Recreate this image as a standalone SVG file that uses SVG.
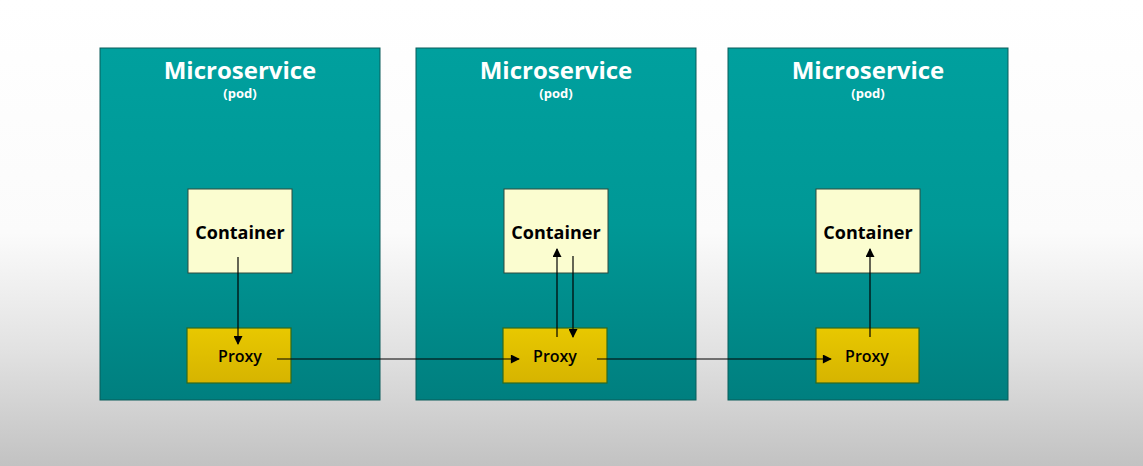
<svg xmlns="http://www.w3.org/2000/svg" width="1143" height="466" viewBox="0 0 1143 466">
<defs>
<linearGradient id="bg" x1="0" y1="0" x2="0" y2="1">
<stop offset="0" stop-color="#ffffff"/>
<stop offset="0.5" stop-color="#fbfbfb"/>
<stop offset="0.75" stop-color="#e2e2e2"/>
<stop offset="1" stop-color="#c2c2c2"/>
</linearGradient>
<linearGradient id="pod" x1="0" y1="0" x2="0" y2="1">
<stop offset="0" stop-color="#00a09e"/>
<stop offset="0.5" stop-color="#009896"/>
<stop offset="1" stop-color="#007f7f"/>
</linearGradient>
<linearGradient id="proxy" x1="0" y1="0" x2="0" y2="1">
<stop offset="0" stop-color="#e8c800"/>
<stop offset="1" stop-color="#d6b400"/>
</linearGradient>
<marker id="ah" viewBox="0 0 10 10" refX="9" refY="5" markerWidth="10" markerHeight="9" markerUnits="userSpaceOnUse" orient="auto">
<path d="M0,0 L10,5 L0,10 z" fill="#000"/>
</marker>
<style>
.pod{fill:url(#pod);stroke:#0b5c5a;stroke-width:1}
.cont{fill:#fbfdd0;stroke:#2e4a3e;stroke-width:1}
.proxy{fill:url(#proxy);stroke:#2d6a1e;stroke-width:1.2}
.t1{font-family:"Open Sans","Liberation Sans",sans-serif;font-weight:bold;font-size:24px;fill:#fff;text-anchor:middle}
.t2{font-family:"Open Sans","Liberation Sans",sans-serif;font-weight:bold;font-size:13px;fill:#fff;text-anchor:middle}
.tc{font-family:"Open Sans","Liberation Sans",sans-serif;font-weight:bold;font-size:18px;fill:#000;text-anchor:middle}
.tp{font-family:"Open Sans","Liberation Sans",sans-serif;font-weight:600;font-size:16px;fill:#000;text-anchor:middle}
.c{stroke:#000;stroke-width:1.2;fill:none;marker-end:url(#ah)}
</style>
</defs>
<rect width="1143" height="466" fill="url(#bg)"/>
<g id="pod1">
<rect class="pod" x="100" y="48" width="280" height="352"/>
<text class="t1" x="240" y="79">Microservice</text>
<text class="t2" x="240" y="98">(pod)</text>
</g>
<g id="pod2">
<rect class="pod" x="416" y="48" width="280" height="352"/>
<text class="t1" x="556" y="79">Microservice</text>
<text class="t2" x="556" y="98">(pod)</text>
</g>
<g id="pod3">
<rect class="pod" x="728" y="48" width="280" height="352"/>
<text class="t1" x="868" y="79">Microservice</text>
<text class="t2" x="868" y="98">(pod)</text>
</g>
<g id="container1">
<rect class="cont" x="188" y="189" width="104" height="84"/>
<text class="tc" x="240" y="239">Container</text>
</g>
<g id="container2">
<rect class="cont" x="504" y="189" width="104" height="84"/>
<text class="tc" x="556" y="239">Container</text>
</g>
<g id="container3">
<rect class="cont" x="816" y="189" width="104" height="84"/>
<text class="tc" x="868" y="239">Container</text>
</g>
<g id="proxy1">
<rect class="proxy" x="187" y="328" width="104" height="55"/>
<text class="tp" x="240" y="362">Proxy</text>
</g>
<g id="proxy2">
<rect class="proxy" x="503" y="328" width="104" height="55"/>
<text class="tp" x="555" y="362">Proxy</text>
</g>
<g id="proxy3">
<rect class="proxy" x="816" y="328" width="103" height="55"/>
<text class="tp" x="867" y="362">Proxy</text>
</g>
<g id="connectors">
<line class="c" x1="238" y1="257" x2="238" y2="344"/>
<line class="c" x1="277" y1="359" x2="519" y2="359"/>
<line class="c" x1="557" y1="337" x2="557" y2="249"/>
<line class="c" x1="573" y1="256" x2="573" y2="337"/>
<line class="c" x1="597" y1="359" x2="831" y2="359"/>
<line class="c" x1="870" y1="337" x2="870" y2="249"/>
</g>
</svg>
